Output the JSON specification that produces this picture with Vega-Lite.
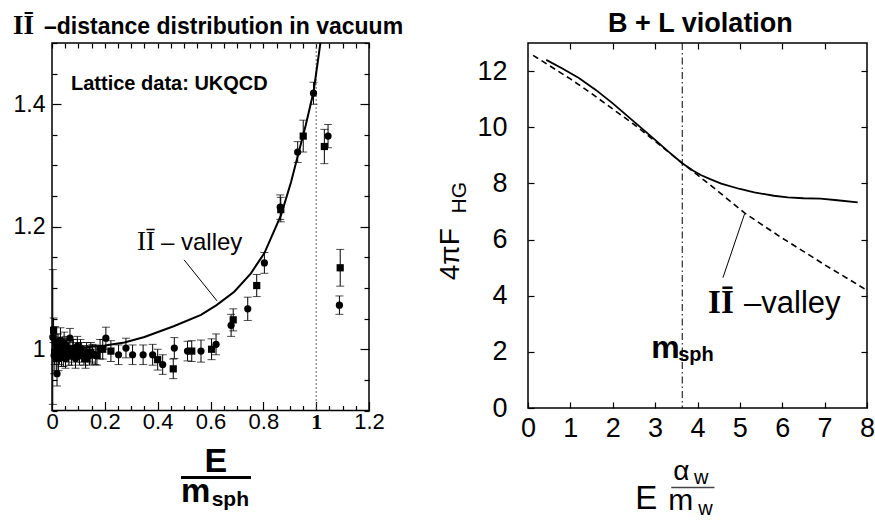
{
  "$schema": "https://vega.github.io/schema/vega-lite/v6.json",
  "padding": {"left": 12, "top": 9, "right": 5, "bottom": 0},
  "background": "white",
  "config": {
    "view": {"stroke": "black", "strokeWidth": 1.5},
    "font": "Liberation Sans",
    "axis": {"domain": false, "grid": false, "tickColor": "black", "labelColor": "black", "title": null, "tickWidth": 1.2}
  },
  "spacing": 32,
  "datasets": {
    "pts": [
      {"x": 0.003, "y": 1.02, "lo": 0.91, "hi": 1.13, "s": "circle"},
      {"x": 0.008, "y": 0.99, "lo": 0.96, "hi": 1.02, "s": "circle"},
      {"x": 0.012, "y": 1.012, "lo": 0.987, "hi": 1.037, "s": "circle"},
      {"x": 0.016, "y": 0.985, "lo": 0.965, "hi": 1.005, "s": "circle"},
      {"x": 0.019, "y": 0.96, "lo": 0.94, "hi": 0.98, "s": "circle"},
      {"x": 0.023, "y": 1.005, "lo": 0.985, "hi": 1.025, "s": "circle"},
      {"x": 0.028, "y": 0.995, "lo": 0.975, "hi": 1.015, "s": "circle"},
      {"x": 0.032, "y": 1.015, "lo": 0.995, "hi": 1.035, "s": "circle"},
      {"x": 0.036, "y": 0.99, "lo": 0.972, "hi": 1.008, "s": "circle"},
      {"x": 0.041, "y": 1.0, "lo": 0.982, "hi": 1.018, "s": "circle"},
      {"x": 0.046, "y": 1.01, "lo": 0.992, "hi": 1.028, "s": "circle"},
      {"x": 0.051, "y": 0.985, "lo": 0.969, "hi": 1.001, "s": "circle"},
      {"x": 0.056, "y": 1.0, "lo": 0.984, "hi": 1.016, "s": "circle"},
      {"x": 0.062, "y": 0.995, "lo": 0.979, "hi": 1.011, "s": "circle"},
      {"x": 0.068, "y": 1.018, "lo": 1.002, "hi": 1.034, "s": "circle"},
      {"x": 0.074, "y": 0.99, "lo": 0.974, "hi": 1.006, "s": "circle"},
      {"x": 0.081, "y": 1.0, "lo": 0.984, "hi": 1.016, "s": "circle"},
      {"x": 0.089, "y": 0.985, "lo": 0.969, "hi": 1.001, "s": "circle"},
      {"x": 0.096, "y": 1.005, "lo": 0.989, "hi": 1.021, "s": "circle"},
      {"x": 0.104, "y": 0.99, "lo": 0.974, "hi": 1.006, "s": "circle"},
      {"x": 0.112, "y": 0.995, "lo": 0.979, "hi": 1.011, "s": "circle"},
      {"x": 0.121, "y": 0.99, "lo": 0.974, "hi": 1.006, "s": "circle"},
      {"x": 0.131, "y": 0.995, "lo": 0.979, "hi": 1.011, "s": "circle"},
      {"x": 0.142, "y": 0.99, "lo": 0.974, "hi": 1.006, "s": "circle"},
      {"x": 0.153, "y": 0.992, "lo": 0.976, "hi": 1.008, "s": "circle"},
      {"x": 0.164, "y": 0.991, "lo": 0.975, "hi": 1.007, "s": "circle"},
      {"x": 0.182, "y": 1.0, "lo": 0.984, "hi": 1.016, "s": "circle"},
      {"x": 0.204, "y": 1.018, "lo": 1.0, "hi": 1.036, "s": "circle"},
      {"x": 0.252, "y": 0.991, "lo": 0.975, "hi": 1.007, "s": "circle"},
      {"x": 0.28, "y": 1.002, "lo": 0.986, "hi": 1.018, "s": "circle"},
      {"x": 0.305, "y": 0.991, "lo": 0.975, "hi": 1.007, "s": "circle"},
      {"x": 0.345, "y": 0.991, "lo": 0.975, "hi": 1.007, "s": "circle"},
      {"x": 0.381, "y": 0.991, "lo": 0.974, "hi": 1.008, "s": "circle"},
      {"x": 0.419, "y": 0.975, "lo": 0.959, "hi": 0.991, "s": "circle"},
      {"x": 0.463, "y": 1.002, "lo": 0.985, "hi": 1.019, "s": "circle"},
      {"x": 0.513, "y": 0.997, "lo": 0.981, "hi": 1.013, "s": "circle"},
      {"x": 0.564, "y": 0.997, "lo": 0.979, "hi": 1.015, "s": "circle"},
      {"x": 0.621, "y": 1.008, "lo": 0.991, "hi": 1.025, "s": "circle"},
      {"x": 0.678, "y": 1.039, "lo": 1.021, "hi": 1.057, "s": "circle"},
      {"x": 0.741, "y": 1.066, "lo": 1.047, "hi": 1.085, "s": "circle"},
      {"x": 0.804, "y": 1.141, "lo": 1.124, "hi": 1.158, "s": "circle"},
      {"x": 0.864, "y": 1.232, "lo": 1.212, "hi": 1.252, "s": "circle"},
      {"x": 0.93, "y": 1.322, "lo": 1.305, "hi": 1.339, "s": "circle"},
      {"x": 0.99, "y": 1.418, "lo": 1.4, "hi": 1.436, "s": "circle"},
      {"x": 1.045, "y": 1.348, "lo": 1.329, "hi": 1.367, "s": "circle"},
      {"x": 1.088, "y": 1.072, "lo": 1.057, "hi": 1.087, "s": "circle"},
      {"x": 0.006, "y": 1.031, "lo": 1.011, "hi": 1.051, "s": "square"},
      {"x": 0.01, "y": 0.995, "lo": 0.975, "hi": 1.015, "s": "square"},
      {"x": 0.018, "y": 1.005, "lo": 0.985, "hi": 1.025, "s": "square"},
      {"x": 0.025, "y": 0.985, "lo": 0.965, "hi": 1.005, "s": "square"},
      {"x": 0.033, "y": 1.0, "lo": 0.982, "hi": 1.018, "s": "square"},
      {"x": 0.043, "y": 0.99, "lo": 0.972, "hi": 1.008, "s": "square"},
      {"x": 0.053, "y": 1.005, "lo": 0.989, "hi": 1.021, "s": "square"},
      {"x": 0.064, "y": 0.99, "lo": 0.974, "hi": 1.006, "s": "square"},
      {"x": 0.077, "y": 1.0, "lo": 0.984, "hi": 1.016, "s": "square"},
      {"x": 0.092, "y": 0.995, "lo": 0.979, "hi": 1.011, "s": "square"},
      {"x": 0.108, "y": 1.0, "lo": 0.984, "hi": 1.016, "s": "square"},
      {"x": 0.127, "y": 0.985, "lo": 0.969, "hi": 1.001, "s": "square"},
      {"x": 0.147, "y": 0.995, "lo": 0.979, "hi": 1.011, "s": "square"},
      {"x": 0.17, "y": 0.99, "lo": 0.974, "hi": 1.006, "s": "square"},
      {"x": 0.192, "y": 1.0, "lo": 0.984, "hi": 1.016, "s": "square"},
      {"x": 0.223, "y": 0.997, "lo": 0.98, "hi": 1.014, "s": "square"},
      {"x": 0.4, "y": 0.983, "lo": 0.966, "hi": 1.0, "s": "square"},
      {"x": 0.459, "y": 0.968, "lo": 0.952, "hi": 0.984, "s": "square"},
      {"x": 0.529, "y": 0.997, "lo": 0.98, "hi": 1.014, "s": "square"},
      {"x": 0.604, "y": 1.0, "lo": 0.983, "hi": 1.017, "s": "square"},
      {"x": 0.686, "y": 1.048, "lo": 1.03, "hi": 1.066, "s": "square"},
      {"x": 0.775, "y": 1.104, "lo": 1.086, "hi": 1.122, "s": "square"},
      {"x": 0.866, "y": 1.228, "lo": 1.208, "hi": 1.248, "s": "square"},
      {"x": 0.951, "y": 1.348, "lo": 1.322, "hi": 1.374, "s": "square"},
      {"x": 1.031, "y": 1.331, "lo": 1.303, "hi": 1.359, "s": "square"},
      {"x": 1.091, "y": 1.133, "lo": 1.103, "hi": 1.163, "s": "square"}
    ],
    "curveL": [
      {"x": 0.0, "y": 1.0}, {"x": 0.1, "y": 1.002}, {"x": 0.2, "y": 1.006}, {"x": 0.274, "y": 1.011},
      {"x": 0.35, "y": 1.02}, {"x": 0.463, "y": 1.038}, {"x": 0.564, "y": 1.056}, {"x": 0.623, "y": 1.072},
      {"x": 0.69, "y": 1.094}, {"x": 0.753, "y": 1.124}, {"x": 0.804, "y": 1.157}, {"x": 0.867, "y": 1.219},
      {"x": 0.905, "y": 1.273}, {"x": 0.93, "y": 1.315}, {"x": 0.96, "y": 1.365}, {"x": 0.99, "y": 1.42},
      {"x": 1.016, "y": 1.5}, {"x": 1.025, "y": 1.53}
    ],
    "full": [
      {"x": 0.43, "y": 12.4}, {"x": 0.8, "y": 12.1}, {"x": 1.2, "y": 11.75}, {"x": 1.6, "y": 11.33},
      {"x": 2.0, "y": 10.85}, {"x": 2.5, "y": 10.2}, {"x": 3.0, "y": 9.55}, {"x": 3.3, "y": 9.15},
      {"x": 3.64, "y": 8.72}, {"x": 3.9, "y": 8.45}, {"x": 4.09, "y": 8.29}, {"x": 4.3, "y": 8.15},
      {"x": 4.56, "y": 7.99}, {"x": 5.0, "y": 7.8}, {"x": 5.34, "y": 7.68}, {"x": 5.8, "y": 7.56},
      {"x": 6.13, "y": 7.5}, {"x": 6.5, "y": 7.47}, {"x": 6.9, "y": 7.46}, {"x": 7.3, "y": 7.4}, {"x": 7.78, "y": 7.32}
    ],
    "valley": [
      {"x": 0.12, "y": 12.56}, {"x": 0.5, "y": 12.2}, {"x": 1.0, "y": 11.72}, {"x": 1.5, "y": 11.2},
      {"x": 2.0, "y": 10.65}, {"x": 2.5, "y": 10.1}, {"x": 3.0, "y": 9.5}, {"x": 3.64, "y": 8.72},
      {"x": 4.0, "y": 8.3}, {"x": 4.5, "y": 7.7}, {"x": 5.11, "y": 6.95}, {"x": 5.5, "y": 6.55},
      {"x": 6.0, "y": 6.05}, {"x": 6.5, "y": 5.58}, {"x": 7.0, "y": 5.1}, {"x": 7.5, "y": 4.65}, {"x": 8.0, "y": 4.19}
    ]
  },
  "hconcat": [
    {
      "width": 317,
      "height": 367.5,
      "resolve": {"axis": {"x": "independent", "y": "independent"}},
      "layer": [
        {
          "data": {"values": [{"x": 1}]},
          "mark": {"type": "rule", "color": "#666666", "strokeDash": [2, 2], "strokeWidth": 1},
          "encoding": {
            "x": {"field": "x", "type": "quantitative", "scale": {"domain": [0, 1.2], "nice": false, "zero": false}, "axis": null}
          }
        },
        {
          "data": {"name": "pts"},
          "mark": {"type": "errorbar", "ticks": {"size": 8, "color": "black"}, "rule": {"color": "black"}, "thickness": 1},
          "encoding": {
            "x": {"field": "x", "type": "quantitative", "scale": {"domain": [0, 1.2], "nice": false, "zero": false}, "axis": null},
            "y": {"field": "lo", "type": "quantitative", "scale": {"domain": [0.9, 1.5], "nice": false, "zero": false}, "axis": null},
            "y2": {"field": "hi"}
          }
        },
        {
          "data": {"name": "pts"},
          "mark": {"type": "point", "filled": true, "color": "black", "size": 52, "opacity": 1},
          "encoding": {
            "x": {"field": "x", "type": "quantitative", "scale": {"domain": [0, 1.2], "nice": false, "zero": false},
              "axis": {"orient": "bottom",
                "values": [0, 0.05, 0.1, 0.15, 0.2, 0.25, 0.3, 0.35, 0.4, 0.45, 0.5, 0.55, 0.6, 0.65, 0.7, 0.75, 0.8, 0.85, 0.9, 0.95, 1, 1.05, 1.1, 1.15, 1.2],
                "labelExpr": "abs(datum.value*5-round(datum.value*5))<0.001 ? format(datum.value,'~g') : ''",
                "tickSize": {"condition": {"test": "abs(datum.value*5-round(datum.value*5))<0.001", "value": -9}, "value": -5},
                "labelFont": {"condition": {"test": "datum.value==1", "value": "Liberation Serif"}, "value": "Liberation Sans"},
                "labelFontWeight": {"condition": {"test": "datum.value==1", "value": "bold"}, "value": "normal"},
                "labelFontSize": 22, "labelPadding": 10, "labelOverlap": false, "labelFlush": false, "labelBound": false}},
            "y": {"field": "y", "type": "quantitative", "scale": {"domain": [0.9, 1.5], "nice": false, "zero": false},
              "axis": {"orient": "left",
                "values": [0.9, 0.95, 1, 1.05, 1.1, 1.15, 1.2, 1.25, 1.3, 1.35, 1.4, 1.45, 1.5],
                "labelExpr": "(abs(datum.value-1)<0.001 || abs(datum.value-1.2)<0.001 || abs(datum.value-1.4)<0.001) ? format(datum.value,'~g') : ''",
                "tickSize": {"condition": {"test": "abs(datum.value*5-round(datum.value*5))<0.001", "value": -9}, "value": -5},
                "labelFontSize": 23, "labelPadding": 16, "labelOverlap": false, "labelFlush": false, "labelBound": false}},
            "shape": {"field": "s", "type": "nominal", "scale": {"domain": ["circle", "square"], "range": ["circle", "square"]}, "legend": null}
          }
        },
        {
          "data": {"name": "curveL"},
          "mark": {"type": "line", "color": "black", "strokeWidth": 2, "clip": true},
          "encoding": {
            "x": {"field": "x", "type": "quantitative", "scale": {"domain": [0, 1.2], "nice": false, "zero": false},
              "axis": {"orient": "top", "labels": false,
                "values": [0, 0.05, 0.1, 0.15, 0.2, 0.25, 0.3, 0.35, 0.4, 0.45, 0.5, 0.55, 0.6, 0.65, 0.7, 0.75, 0.8, 0.85, 0.9, 0.95, 1, 1.05, 1.1, 1.15, 1.2],
                "tickSize": -5}},
            "y": {"field": "y", "type": "quantitative", "scale": {"domain": [0.9, 1.5], "nice": false, "zero": false},
              "axis": {"orient": "right", "labels": false,
                "values": [0.9, 0.95, 1, 1.05, 1.1, 1.15, 1.2, 1.25, 1.3, 1.35, 1.4, 1.45, 1.5],
                "tickSize": {"condition": {"test": "abs(datum.value*5-round(datum.value*5))<0.001", "value": -9}, "value": -5}}}
          }
        },
        {
          "data": {"values": [{"x": 0.5, "y": 1.146}, {"x": 0.6245, "y": 1.079}]},
          "mark": {"type": "line", "color": "black", "strokeWidth": 1},
          "encoding": {
            "x": {"field": "x", "type": "quantitative", "scale": {"domain": [0, 1.2], "nice": false, "zero": false}, "axis": null},
            "y": {"field": "y", "type": "quantitative", "scale": {"domain": [0.9, 1.5], "nice": false, "zero": false}, "axis": null}
          }
        },
        {
          "data": {"values": [{"x": 0.4883, "x2": 0.7533, "y": 0.7907}]},
          "mark": {"type": "rule", "color": "black", "strokeWidth": 3},
          "encoding": {
            "x": {"field": "x", "type": "quantitative", "scale": {"domain": [0, 1.2], "nice": false, "zero": false}, "axis": null},
            "x2": {"field": "x2"},
            "y": {"field": "y", "type": "quantitative", "scale": {"domain": [0.9, 1.5], "nice": false, "zero": false}, "axis": null}
          }
        },
        {
          "data": {"values": [{"x": -0.0303, "y": 1.5139, "t": "–distance distribution in vacuum"}]},
          "mark": {"type": "text", "align": "left", "baseline": "alphabetic", "font": "Liberation Sans", "fontWeight": "bold", "fontSize": 23, "color": "black"},
          "encoding": {
            "x": {"field": "x", "type": "quantitative", "scale": {"domain": [0, 1.2], "nice": false, "zero": false}, "axis": null},
            "y": {"field": "y", "type": "quantitative", "scale": {"domain": [0.9, 1.5], "nice": false, "zero": false}, "axis": null},
            "text": {"field": "t"}
          }
        },
        {
          "data": {"values": [{"x": -0.1476, "y": 1.5155, "t": "IĪ"}]},
          "mark": {"type": "text", "align": "left", "baseline": "alphabetic", "font": "Liberation Serif", "fontWeight": "bold", "fontSize": 27, "color": "black"},
          "encoding": {
            "x": {"field": "x", "type": "quantitative", "scale": {"domain": [0, 1.2], "nice": false, "zero": false}, "axis": null},
            "y": {"field": "y", "type": "quantitative", "scale": {"domain": [0.9, 1.5], "nice": false, "zero": false}, "axis": null},
            "text": {"field": "t"}
          }
        },
        {
          "data": {"values": [{"x": 0.072, "y": 1.4228, "t": "Lattice data: UKQCD"}]},
          "mark": {"type": "text", "align": "left", "baseline": "alphabetic", "font": "Liberation Sans", "fontWeight": "bold", "fontSize": 20, "color": "black"},
          "encoding": {
            "x": {"field": "x", "type": "quantitative", "scale": {"domain": [0, 1.2], "nice": false, "zero": false}, "axis": null},
            "y": {"field": "y", "type": "quantitative", "scale": {"domain": [0.9, 1.5], "nice": false, "zero": false}, "axis": null},
            "text": {"field": "t"}
          }
        },
        {
          "data": {"values": [{"x": 0.322, "y": 1.1626, "t": "IĪ"}]},
          "mark": {"type": "text", "align": "left", "baseline": "alphabetic", "font": "Liberation Serif", "fontSize": 27, "color": "black"},
          "encoding": {
            "x": {"field": "x", "type": "quantitative", "scale": {"domain": [0, 1.2], "nice": false, "zero": false}, "axis": null},
            "y": {"field": "y", "type": "quantitative", "scale": {"domain": [0.9, 1.5], "nice": false, "zero": false}, "axis": null},
            "text": {"field": "t"}
          }
        },
        {
          "data": {"values": [{"x": 0.4126, "y": 1.1626, "t": "– valley"}]},
          "mark": {"type": "text", "align": "left", "baseline": "alphabetic", "font": "Liberation Sans", "fontSize": 24, "color": "black"},
          "encoding": {
            "x": {"field": "x", "type": "quantitative", "scale": {"domain": [0, 1.2], "nice": false, "zero": false}, "axis": null},
            "y": {"field": "y", "type": "quantitative", "scale": {"domain": [0.9, 1.5], "nice": false, "zero": false}, "axis": null},
            "text": {"field": "t"}
          }
        },
        {
          "data": {"values": [{"x": 0.6207, "y": 0.7989, "t": "E"}]},
          "mark": {"type": "text", "align": "center", "baseline": "alphabetic", "font": "Liberation Sans", "fontWeight": "bold", "fontSize": 34, "color": "black"},
          "encoding": {
            "x": {"field": "x", "type": "quantitative", "scale": {"domain": [0, 1.2], "nice": false, "zero": false}, "axis": null},
            "y": {"field": "y", "type": "quantitative", "scale": {"domain": [0.9, 1.5], "nice": false, "zero": false}, "axis": null},
            "text": {"field": "t"}
          }
        },
        {
          "data": {"values": [{"x": 0.4883, "y": 0.75, "t": "m"}]},
          "mark": {"type": "text", "align": "left", "baseline": "alphabetic", "font": "Liberation Sans", "fontWeight": "bold", "fontSize": 33, "color": "black"},
          "encoding": {
            "x": {"field": "x", "type": "quantitative", "scale": {"domain": [0, 1.2], "nice": false, "zero": false}, "axis": null},
            "y": {"field": "y", "type": "quantitative", "scale": {"domain": [0.9, 1.5], "nice": false, "zero": false}, "axis": null},
            "text": {"field": "t"}
          }
        },
        {
          "data": {"values": [{"x": 0.6045, "y": 0.7447, "t": "sph"}]},
          "mark": {"type": "text", "align": "left", "baseline": "alphabetic", "font": "Liberation Sans", "fontWeight": "bold", "fontSize": 21, "color": "black"},
          "encoding": {
            "x": {"field": "x", "type": "quantitative", "scale": {"domain": [0, 1.2], "nice": false, "zero": false}, "axis": null},
            "y": {"field": "y", "type": "quantitative", "scale": {"domain": [0.9, 1.5], "nice": false, "zero": false}, "axis": null},
            "text": {"field": "t"}
          }
        }
      ]
    },
    {
      "width": 339,
      "height": 365,
      "resolve": {"axis": {"x": "independent", "y": "independent"}},
      "layer": [
        {
          "data": {"values": [{"x": 3.64}]},
          "mark": {"type": "rule", "color": "black", "strokeDash": [7, 3, 1.5, 3], "strokeWidth": 1},
          "encoding": {
            "x": {"field": "x", "type": "quantitative", "scale": {"domain": [0, 8], "nice": false, "zero": false}, "axis": null}
          }
        },
        {
          "data": {"name": "valley"},
          "mark": {"type": "line", "color": "black", "strokeWidth": 1.6, "strokeDash": [6, 4]},
          "encoding": {
            "x": {"field": "x", "type": "quantitative", "scale": {"domain": [0, 8], "nice": false, "zero": false},
              "axis": {"orient": "bottom", "values": [0, 1, 2, 3, 4, 5, 6, 7, 8], "tickSize": -6, "labelFontSize": 27, "labelPadding": 13, "labelOverlap": false, "labelFlush": false, "labelBound": false}},
            "y": {"field": "y", "type": "quantitative", "scale": {"domain": [0, 13], "nice": false, "zero": false},
              "axis": {"orient": "left", "values": [0, 2, 4, 6, 8, 10, 12], "tickSize": -6, "labelFontSize": 27, "labelPadding": 27, "labelOverlap": false, "labelFlush": false, "labelBound": false}}
          }
        },
        {
          "data": {"name": "full"},
          "mark": {"type": "line", "color": "black", "strokeWidth": 1.8},
          "encoding": {
            "x": {"field": "x", "type": "quantitative", "scale": {"domain": [0, 8], "nice": false, "zero": false},
              "axis": {"orient": "top", "values": [1, 2, 3, 4, 5, 6, 7], "tickSize": -6, "labels": false}},
            "y": {"field": "y", "type": "quantitative", "scale": {"domain": [0, 13], "nice": false, "zero": false},
              "axis": {"orient": "right", "values": [2, 4, 6, 8, 10, 12], "tickSize": -6, "labels": false}}
          }
        },
        {
          "data": {"values": [{"x": 5.11, "y": 6.91}, {"x": 4.6, "y": 4.64}]},
          "mark": {"type": "line", "color": "black", "strokeWidth": 1},
          "encoding": {
            "x": {"field": "x", "type": "quantitative", "scale": {"domain": [0, 8], "nice": false, "zero": false}, "axis": null},
            "y": {"field": "y", "type": "quantitative", "scale": {"domain": [0, 13], "nice": false, "zero": false}, "axis": null}
          }
        },
        {
          "data": {"values": [{"x": 3.38, "x2": 4.4, "y": -2.83}]},
          "mark": {"type": "rule", "color": "#444444", "strokeWidth": 1.5},
          "encoding": {
            "x": {"field": "x", "type": "quantitative", "scale": {"domain": [0, 8], "nice": false, "zero": false}, "axis": null},
            "x2": {"field": "x2"},
            "y": {"field": "y", "type": "quantitative", "scale": {"domain": [0, 13], "nice": false, "zero": false}, "axis": null}
          }
        },
        {
          "data": {"values": [{"x": 4.07, "y": 13.4, "t": "B + L violation"}]},
          "mark": {"type": "text", "align": "center", "baseline": "alphabetic", "font": "Liberation Sans", "fontWeight": "bold", "fontSize": 27, "color": "black"},
          "encoding": {
            "x": {"field": "x", "type": "quantitative", "scale": {"domain": [0, 8], "nice": false, "zero": false}, "axis": null},
            "y": {"field": "y", "type": "quantitative", "scale": {"domain": [0, 13], "nice": false, "zero": false}, "axis": null},
            "text": {"field": "t"}
          }
        },
        {
          "data": {"values": [{"x": 2.91, "y": 1.78, "t": "m"}]},
          "mark": {"type": "text", "align": "left", "baseline": "alphabetic", "font": "Liberation Sans", "fontWeight": "bold", "fontSize": 32, "color": "black"},
          "encoding": {
            "x": {"field": "x", "type": "quantitative", "scale": {"domain": [0, 8], "nice": false, "zero": false}, "axis": null},
            "y": {"field": "y", "type": "quantitative", "scale": {"domain": [0, 13], "nice": false, "zero": false}, "axis": null},
            "text": {"field": "t"}
          }
        },
        {
          "data": {"values": [{"x": 3.545, "y": 1.67, "t": "sph"}]},
          "mark": {"type": "text", "align": "left", "baseline": "alphabetic", "font": "Liberation Sans", "fontWeight": "bold", "fontSize": 20, "color": "black"},
          "encoding": {
            "x": {"field": "x", "type": "quantitative", "scale": {"domain": [0, 8], "nice": false, "zero": false}, "axis": null},
            "y": {"field": "y", "type": "quantitative", "scale": {"domain": [0, 13], "nice": false, "zero": false}, "axis": null},
            "text": {"field": "t"}
          }
        },
        {
          "data": {"values": [{"x": 4.25, "y": 3.39, "t": "IĪ"}]},
          "mark": {"type": "text", "align": "left", "baseline": "alphabetic", "font": "Liberation Serif", "fontWeight": "bold", "fontSize": 33, "color": "black"},
          "encoding": {
            "x": {"field": "x", "type": "quantitative", "scale": {"domain": [0, 8], "nice": false, "zero": false}, "axis": null},
            "y": {"field": "y", "type": "quantitative", "scale": {"domain": [0, 13], "nice": false, "zero": false}, "axis": null},
            "text": {"field": "t"}
          }
        },
        {
          "data": {"values": [{"x": 5.1, "y": 3.39, "t": "–valley"}]},
          "mark": {"type": "text", "align": "left", "baseline": "alphabetic", "font": "Liberation Sans", "fontSize": 31, "color": "black"},
          "encoding": {
            "x": {"field": "x", "type": "quantitative", "scale": {"domain": [0, 8], "nice": false, "zero": false}, "axis": null},
            "y": {"field": "y", "type": "quantitative", "scale": {"domain": [0, 13], "nice": false, "zero": false}, "axis": null},
            "text": {"field": "t"}
          }
        },
        {
          "data": {"values": [{"x": -1.62, "y": 4.55, "t": "4πF"}]},
          "mark": {"type": "text", "align": "left", "baseline": "alphabetic", "angle": 270, "font": "Liberation Sans", "fontSize": 28, "color": "black"},
          "encoding": {
            "x": {"field": "x", "type": "quantitative", "scale": {"domain": [0, 8], "nice": false, "zero": false}, "axis": null},
            "y": {"field": "y", "type": "quantitative", "scale": {"domain": [0, 13], "nice": false, "zero": false}, "axis": null},
            "text": {"field": "t"}
          }
        },
        {
          "data": {"values": [{"x": -1.46, "y": 6.93, "t": "HG"}]},
          "mark": {"type": "text", "align": "left", "baseline": "alphabetic", "angle": 270, "font": "Liberation Sans", "fontSize": 21, "color": "black"},
          "encoding": {
            "x": {"field": "x", "type": "quantitative", "scale": {"domain": [0, 8], "nice": false, "zero": false}, "axis": null},
            "y": {"field": "y", "type": "quantitative", "scale": {"domain": [0, 13], "nice": false, "zero": false}, "axis": null},
            "text": {"field": "t"}
          }
        },
        {
          "data": {"values": [{"x": 2.79, "y": -3.58, "t": "E"}]},
          "mark": {"type": "text", "align": "center", "baseline": "alphabetic", "font": "Liberation Sans", "fontSize": 33, "color": "black"},
          "encoding": {
            "x": {"field": "x", "type": "quantitative", "scale": {"domain": [0, 8], "nice": false, "zero": false}, "axis": null},
            "y": {"field": "y", "type": "quantitative", "scale": {"domain": [0, 13], "nice": false, "zero": false}, "axis": null},
            "text": {"field": "t"}
          }
        },
        {
          "data": {"values": [{"x": 3.43, "y": -2.55, "t": "α"}]},
          "mark": {"type": "text", "align": "left", "baseline": "alphabetic", "font": "Liberation Sans", "fontSize": 28, "color": "black"},
          "encoding": {
            "x": {"field": "x", "type": "quantitative", "scale": {"domain": [0, 8], "nice": false, "zero": false}, "axis": null},
            "y": {"field": "y", "type": "quantitative", "scale": {"domain": [0, 13], "nice": false, "zero": false}, "axis": null},
            "text": {"field": "t"}
          }
        },
        {
          "data": {"values": [{"x": 3.92, "y": -2.72, "t": "w"}, {"x": 4.02, "y": -3.8, "t": "w"}]},
          "mark": {"type": "text", "align": "left", "baseline": "alphabetic", "font": "Liberation Sans", "fontSize": 20, "color": "black"},
          "encoding": {
            "x": {"field": "x", "type": "quantitative", "scale": {"domain": [0, 8], "nice": false, "zero": false}, "axis": null},
            "y": {"field": "y", "type": "quantitative", "scale": {"domain": [0, 13], "nice": false, "zero": false}, "axis": null},
            "text": {"field": "t"}
          }
        },
        {
          "data": {"values": [{"x": 3.31, "y": -3.62, "t": "m"}]},
          "mark": {"type": "text", "align": "left", "baseline": "alphabetic", "font": "Liberation Sans", "fontSize": 30, "color": "black"},
          "encoding": {
            "x": {"field": "x", "type": "quantitative", "scale": {"domain": [0, 8], "nice": false, "zero": false}, "axis": null},
            "y": {"field": "y", "type": "quantitative", "scale": {"domain": [0, 13], "nice": false, "zero": false}, "axis": null},
            "text": {"field": "t"}
          }
        }
      ]
    }
  ]
}
